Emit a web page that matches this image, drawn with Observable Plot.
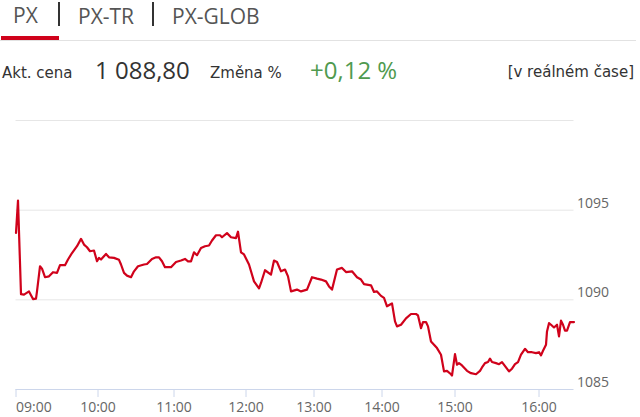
<!DOCTYPE html>
<html>
<head>
<meta charset="utf-8">
<script src="https://cdn.jsdelivr.net/npm/d3@7"></script>
<script src="https://cdn.jsdelivr.net/npm/@observablehq/plot@0.6"></script>
<style>
  html, body { margin: 0; padding: 0; background: #fff; }
  body { width: 640px; height: 417px; position: relative; overflow: hidden; }
  .t { position: absolute; white-space: nowrap; line-height: 1; }
  .tab { font-family: "Open Sans", sans-serif; font-size: 21px; color: #555; }
  .lbl { font-family: "DejaVu Sans", sans-serif; font-size: 15px; color: #333; }
  .big { font-family: "Open Sans", sans-serif; font-size: 24px; color: #333; }
  #chart { position: absolute; left: 0; top: 100px; }
</style>
</head>
<body>
<div class="t tab" style="left:13px; top:1px; line-height:normal;">PX</div>
<div style="position:absolute; left:58px; top:2px; width:2px; height:24px; background:#333;"></div>
<div class="t tab" style="left:78px; top:6px;">PX-TR</div>
<div style="position:absolute; left:152px; top:2px; width:2px; height:24px; background:#333;"></div>
<div class="t tab" style="left:172px; top:6px;">PX-GLOB</div>
<div style="position:absolute; left:0px; top:40px; width:636px; height:1px; background:#e2e2e2;"></div>
<div style="position:absolute; left:1px; top:36px; width:58px; height:4px; background:#d0021b;"></div>

<div class="t lbl" style="left:2px; top:66px;">Akt. cena</div>
<div class="t big" style="left:95px; top:58px; letter-spacing:0px;">1 088,80</div>
<div class="t lbl" style="left:210px; top:66px;">Změna %</div>
<div class="t big" style="left:310px; top:58px; color:#4f9a4f;">+0,12 %</div>
<div class="t lbl" style="right:6px; top:65px;">[v reálném čase]</div>

<div id="chart"></div>
<script>
// sample index (intraday ticks, irregular in time) and PX index value
const sample = [0,2,5,8,13,17,20,21,24,26,29,33,37,41,44,49,52,56,61,65,68,71,74,78,81,83,85,90,93,98,103,105,108,111,115,118,122,128,131,136,140,143,146,149,155,160,165,169,172,175,178,181,185,189,193,196,200,204,206,211,215,220,222,225,228,233,238,243,245,249,255,258,261,265,269,272,275,281,285,291,296,301,305,310,313,316,321,326,330,336,341,345,348,355,358,361,365,368,371,375,376,379,381,385,390,395,400,402,405,407,410,412,415,418,421,425,428,431,435,436,439,441,443,446,451,455,460,464,466,469,472,474,476,480,483,486,490,493,496,499,502,505,509,512,516,520,523,525,527,530,531,533,535,538,541,543,545,547,549,551,554,558];
const price = [1093.73,1095.54,1090.32,1090.29,1090.47,1090.04,1090.07,1090.47,1091.87,1091.74,1091.26,1091.31,1091.54,1091.50,1091.93,1091.93,1092.25,1092.61,1092.99,1093.40,1093.08,1092.93,1092.71,1092.75,1092.15,1092.34,1092.25,1092.56,1092.37,1092.34,1092.23,1091.97,1091.50,1091.35,1091.26,1091.59,1091.87,1091.97,1092.00,1092.28,1092.37,1092.37,1092.15,1091.82,1091.82,1092.11,1092.19,1092.28,1092.15,1092.15,1092.65,1092.49,1092.89,1092.99,1093.03,1093.31,1093.60,1093.60,1093.49,1093.72,1093.49,1093.44,1093.80,1092.65,1092.53,1091.97,1091.03,1090.64,1090.94,1091.65,1091.41,1092.19,1092.11,1091.59,1091.69,1091.31,1090.47,1090.57,1090.47,1090.57,1091.26,1091.18,1091.13,1091.03,1090.75,1090.57,1091.69,1091.78,1091.55,1091.59,1091.26,1091.13,1090.88,1090.81,1090.44,1090.47,1090.22,1090.11,1089.64,1089.77,1089.80,1088.80,1088.52,1088.61,1088.97,1089.21,1089.21,1089.13,1088.42,1088.76,1088.76,1088.52,1087.68,1087.50,1087.31,1086.94,1086.01,1086.04,1085.85,1085.78,1086.97,1086.38,1086.47,1086.34,1086.04,1085.91,1085.85,1086.04,1086.23,1086.47,1086.53,1086.72,1086.53,1086.47,1086.41,1086.53,1086.23,1086.01,1086.16,1086.41,1086.53,1086.94,1087.27,1087.08,1087.08,1087.03,1087.08,1086.90,1087.16,1087.50,1088.24,1088.70,1088.61,1088.46,1088.61,1087.96,1088.84,1088.61,1088.28,1088.28,1088.76,1088.76];

// x-axis: sample index at which each hour starts
const hourTicks = [0, 82, 158, 230, 298, 366, 439, 523];
const hourLabels = ["09:00","10:00","11:00","12:00","13:00","14:00","15:00","16:00"];
const yGrid = [1090, 1095, 1100];
const yLabels = [1085, 1090, 1095];

const data = sample.map((s, i) => ({s, v: price[i]}));
const lab = new Map(hourTicks.map((t, i) => [t, hourLabels[i]]));

const axisStyle = {
  tickSize: 8, tickPadding: 5, stroke: "#ccd6eb", color: "#666",
  fontSize: 14, tickFormat: d => lab.get(d), label: null
};

const chart = Plot.plot({
  width: 640,
  height: 317,
  marginTop: 20,
  marginBottom: 28,
  marginLeft: 15.5,
  marginRight: 66.5,
  style: {fontFamily: "'Open Sans', sans-serif", fontSize: "14px", color: "#666", background: "#fff"},
  x: {domain: [0, 558], axis: null},
  y: {domain: [1085, 1100], axis: null},
  marks: [
    Plot.ruleY(yGrid, {stroke: "#e6e6e6", strokeWidth: 1}),
    Plot.ruleY([1085], {stroke: "#ccd6eb", strokeWidth: 1}),
    Plot.axisX(hourTicks.slice(1), axisStyle),
    Plot.axisX(hourTicks.slice(0, 1), {...axisStyle, textAnchor: "start"}),
    Plot.text(yLabels, {y: d => d, text: d => String(d), frameAnchor: "right", textAnchor: "start", dx: 3, dy: -7, fill: "#666", fontSize: 14}),
    Plot.line(data, {x: "s", y: "v", stroke: "#d0021b", strokeWidth: 2.2, curve: "linear"})
  ]
});
document.getElementById("chart").appendChild(chart);
</script>
</body>
</html>
